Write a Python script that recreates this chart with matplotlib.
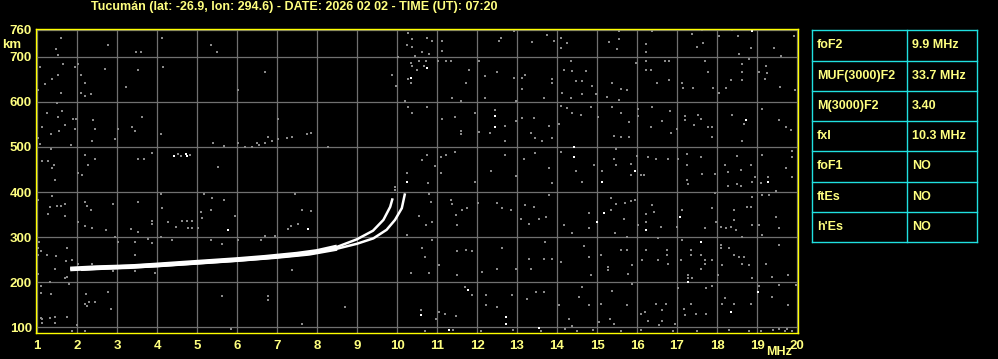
import matplotlib
matplotlib.use('Agg')
import matplotlib.pyplot as plt

# ionogram trace (frequency MHz, virtual height km)
o_freq = [1.83, 2.5, 3.3, 4.0, 5.0, 6.0, 6.7, 7.5, 8.0, 8.5, 9.0, 9.4, 9.66, 9.83, 9.89]
o_height = [229, 232, 234, 238, 244, 250, 255, 262, 268, 278, 295, 314, 338, 367, 386]
x_freq = [2.1, 3.0, 4.0, 5.0, 6.0, 7.0, 7.8, 8.5, 9.0, 9.41, 9.74, 9.95, 10.12, 10.2]
x_height = [229, 233, 237, 243, 249, 256, 263, 274, 285, 297, 316, 338, 364, 397]

# gray noise dots
noise_freq = [
    1.59, 1.48, 1.53, 2.78, 3.48, 3.59, 4.13, 5.34, 5.49, 1.65, 1.08, 1.95, 2.03, 2.69, 3.53, 4.16,
    1.53, 1.38, 1.19, 2.09, 2.19, 1.59, 2.09, 2.2, 2.34, 3.23, 1.03, 1.49, 1.24, 1.63, 1.53, 1.91,
    1.98, 1.69, 1.13, 1.55, 1.34, 1.95, 2.4, 2.44, 3.63, 3.38, 3.45, 4.09, 3.03, 2.94, 1.03, 1.07,
    1.84, 2.38, 5.4, 5.68, 1.34, 1.13, 1.28, 1.43, 1.38, 2.19, 2.44, 2.28, 3.53, 3.68, 3.88, 2.02,
    2.13, 1.44, 5.53, 4.53, 4.6, 4.83, 1.38, 1.03, 1.32, 1.51, 1.59, 1.69, 1.28, 1.69, 2.19, 2.24,
    2.34, 2.9, 3.53, 4.09, 4.13, 2.03, 2.19, 2.38, 2.73, 3.34, 3.53, 3.88, 3.88, 4.28, 4.47, 4.63,
    4.76, 4.88, 5.09, 5.13, 5.34, 5.18, 5.38, 5.68, 4.78, 4.88, 5.03, 4.38, 4.09, 2.94, 3.03, 3.44,
    3.78, 3.88, 1.76, 1.05, 1.03, 1.03, 1.09, 1.24, 1.48, 1.73, 1.88, 2.03, 2.38, 2.9, 3.44, 3.44,
    3.94, 5.34, 5.63, 1.03, 1.45, 1.76, 1.7, 1.8, 1.33, 1.09, 1.09, 1.34, 2.23, 2.78, 5.63, 2.2,
    2.3, 2.44, 2.24, 2.84, 1.09, 1.13, 1.33, 1.44, 1.74, 1.13, 1.44, 1.99, 1.88, 2.2, 2.94,
    10.28, 10.38, 10.24, 10.38, 10.44, 10.03, 10.34, 10.38, 10.28, 9.88, 10.34, 9.98, 6.7, 6.03,
    10.19, 10.28, 10.38, 7.03, 6.78, 6.88, 7.03, 7.24, 7.38, 7.74, 7.84, 6.03, 6.19, 6.38, 6.49,
    6.55, 6.69, 8.28, 10.24, 9.94, 9.94, 7.44, 7.63, 7.84, 5.94, 7.34, 7.53, 7.28, 6.7, 6.95, 6.59,
    6.03, 10.24, 7.38, 10.34, 6.78, 6.78, 8.69, 7.63, 5.84,
    10.76, 10.88, 10.63, 10.8, 11.13, 11.13, 11.8, 12.4, 12.59, 12.55, 12.93, 13.38, 13.76, 13.93,
    14.09, 14.24, 14.09, 14.18, 10.55, 10.68, 10.72, 10.51, 11.03, 11.22, 11.34, 11.8, 12.05, 12.2,
    12.49, 12.93, 13.13, 13.2, 13.13, 13.88, 13.88, 14.34, 14.18, 14.38, 14.72, 14.47, 14.63, 14.88,
    14.13, 14.34, 14.63, 14.97, 11.73, 11.38, 11.59, 12.19, 12.97, 13.68, 10.74, 11.13, 11.45,
    11.59, 11.59, 11.95, 12.44, 12.33, 12.69, 12.69, 12.05, 12.97, 13.13, 13.43, 13.34, 13.46,
    13.62, 13.8, 13.88, 14.05, 14.09, 14.26, 14.38, 14.59, 14.84, 15.03, 14.47, 10.63, 10.76,
    10.94, 10.78, 11.09, 11.23, 11.45, 11.09, 11.95, 12.34, 12.69, 12.98, 13.18, 13.44, 13.8,
    13.88, 14.09, 14.63, 14.93, 15.13, 10.8, 10.84, 11.34, 11.37, 11.63, 11.74, 11.47, 11.51,
    10.88, 10.72, 10.55, 12.03, 12.49, 12.63, 12.84, 13.2, 13.42, 13.09, 13.3, 13.55, 13.72, 13.8,
    14.18, 14.38, 14.8, 14.8, 15.0, 10.63, 10.69, 10.88, 11.05, 10.8, 11.51, 11.51, 11.72, 11.88,
    12.13, 12.63, 12.49, 12.98, 13.3, 13.34, 13.68, 13.88, 13.7, 14.11, 14.68, 14.8, 14.84, 15.09,
    11.7, 11.88, 10.59, 10.97, 11.05, 11.2, 11.47, 12.23, 12.23, 12.49, 12.88, 13.26, 13.48,
    13.68, 14.05, 14.3, 14.38, 14.55, 14.63, 14.8, 15.09, 15.05,
    15.55, 15.55, 15.3, 15.51, 16.23, 16.23, 16.38, 16.84, 17.37, 17.63, 17.65, 17.49, 18.05,
    18.38, 18.53, 18.84, 18.55, 19.43, 19.59, 19.93, 15.98, 16.23, 16.34, 16.7, 16.8, 16.22,
    15.38, 15.59, 15.76, 16.51, 16.8, 17.13, 17.15, 17.4, 17.7, 17.78, 17.9, 18.05, 18.22, 18.34,
    18.63, 18.63, 18.63, 18.8, 19.22, 19.26, 19.2, 19.57, 19.95, 19.05, 15.26, 15.55, 15.38, 15.59,
    15.8, 16.03, 16.03, 16.38, 16.83, 16.63, 16.34, 17.01, 16.84, 17.19, 17.19, 17.53, 17.59,
    17.43, 17.78, 17.88, 17.88, 18.38, 18.68, 18.63, 19.13, 19.55, 19.72, 19.85, 15.43, 15.59,
    15.8, 15.48, 15.43, 15.48, 15.84, 15.84, 16.01, 16.09, 16.18, 16.28, 16.48, 16.78, 17.03,
    17.24, 17.24, 17.24, 17.28, 17.59, 17.63, 17.95, 18.19, 18.28, 18.28, 18.49, 18.49, 18.59,
    18.59, 18.84, 18.88, 18.94, 19.09, 19.28, 19.13, 19.48, 19.72, 19.87, 19.87, 19.88, 15.34,
    15.34, 15.47, 15.69, 15.84, 15.95, 15.45, 15.68, 15.74, 16.03, 16.23, 16.23, 16.38, 16.43,
    16.59, 16.53, 17.13, 17.01, 17.69, 17.88, 17.95, 17.98, 18.09, 18.22, 18.34, 18.43, 18.43,
    18.48, 18.62, 18.76, 18.84, 18.88, 18.88, 19.05, 19.13, 19.48, 19.55, 19.3, 19.13, 15.28,
    15.28, 15.59, 15.74, 15.88, 15.78, 16.13, 16.23, 16.53, 16.74, 16.76, 16.78, 17.13, 17.09,
    17.35, 17.35, 17.59, 17.69, 17.59, 17.69, 17.88, 18.09, 18.09, 18.13, 18.03, 18.3, 18.43,
    18.55, 18.68, 18.63, 18.8, 18.88, 19.22, 19.38, 19.78, 19.55, 17.28, 17.28, 17.38, 15.38,
    15.74, 15.88, 15.32, 15.43, 16.09, 16.2, 16.28, 16.48, 16.63, 16.63, 16.73, 16.55, 16.95,
    17.03, 17.18, 17.19, 17.34, 17.47, 17.73, 17.73, 17.88, 18.13, 18.19, 18.43, 18.84, 19.05,
    19.38, 19.78, 19.97, 19.55, 18.8, 19.55, 19.76, 19.88,
    10.7, 11.4, 12.1, 12.9, 13.6, 14.2, 14.5, 14.9, 15.6, 16.1, 16.9, 17.5, 18.3, 19.1, 19.4, 19.7,
]
noise_height = [
    743, 717, 704, 726, 712, 712, 743, 726, 712, 685, 678, 678, 684, 674, 670, 678,
    661, 652, 641, 661, 643, 620, 620, 613, 617, 633, 626, 598, 576, 581, 566, 563,
    563, 548, 544, 535, 528, 540, 559, 541, 567, 544, 536, 528, 540, 518, 520, 507,
    505, 513, 509, 503, 496, 468, 470, 461, 453, 483, 474, 461, 473, 473, 487, 442,
    438, 427, 455, 484, 480, 482, 391, 383, 366, 369, 369, 373, 351, 347, 377, 369,
    360, 373, 377, 396, 364, 334, 325, 319, 315, 317, 312, 336, 328, 334, 323, 336,
    336, 336, 355, 342, 360, 396, 386, 383, 319, 319, 319, 293, 301, 301, 290, 290,
    296, 286, 275, 290, 275, 260, 269, 261, 258, 247, 249, 241, 241, 225, 260, 225,
    221, 293, 284, 217, 230, 212, 208, 195, 199, 191, 176, 173, 173, 177, 168, 151,
    155, 155, 146, 140, 121, 117, 121, 122, 122, 108, 108, 104, 91, 91, 762,
    754, 739, 727, 722, 702, 699, 687, 680, 652, 661, 643, 635, 667, 626,
    603, 589, 576, 563, 522, 514, 518, 521, 522, 529, 531, 509, 500, 500, 509,
    505, 509, 500, 442, 412, 404, 396, 360, 358, 347, 325, 330, 317, 302, 302, 293,
    293, 305, 226, 221, 168, 161, 145, 107, 96,
    743, 736, 710, 707, 713, 736, 762, 762, 743, 736, 758, 734, 749, 736,
    743, 732, 721, 762, 691, 680, 691, 672, 691, 691, 691, 672, 691, 658,
    667, 654, 654, 661, 628, 650, 643, 691, 672, 669, 669, 647, 647, 635,
    620, 609, 617, 617, 643, 609, 603, 608, 603, 609, 589, 563, 566,
    536, 529, 576, 583, 531, 546, 513, 534, 557, 565, 565, 531, 520,
    513, 546, 520, 550, 591, 587, 576, 571, 589, 566, 446, 472, 483,
    457, 420, 477, 482, 488, 442, 422, 446, 483, 435, 474, 487, 453,
    420, 490, 423, 461, 446, 396, 378, 382, 373, 360, 364, 349, 326,
    334, 327, 347, 376, 376, 364, 360, 371, 366, 341, 330, 341, 345, 394,
    327, 308, 353, 319, 334, 275, 256, 293, 238, 219, 215, 268, 272, 268,
    223, 275, 230, 230, 252, 230, 252, 252, 289, 245, 279, 256, 215, 260,
    189, 171, 138, 118, 133, 129, 125, 148, 171, 144, 171, 163, 178,
    178, 148, 118, 103, 166, 189, 148, 152, 111,
    757, 739, 734, 717, 728, 712, 757, 762, 751, 760, 731, 722, 747,
    760, 747, 720, 707, 720, 702, 747, 687, 692, 670, 691, 691, 670,
    643, 628, 626, 643, 648, 643, 632, 630, 691, 667, 630, 620, 630, 648,
    684, 667, 648, 695, 680, 665, 650, 634, 626, 667, 611, 605, 588, 576,
    556, 585, 568, 589, 579, 557, 544, 540, 531, 568, 559, 570, 562,
    548, 544, 544, 522, 572, 550, 514, 585, 559, 544, 538, 525, 523,
    523, 496, 474, 459, 463, 437, 481, 437, 437, 477, 474, 474, 474,
    485, 459, 426, 418, 477, 441, 441, 459, 444, 414, 481, 418, 414,
    448, 459, 422, 433, 420, 433, 483, 403, 453, 491, 477, 433, 386,
    360, 373, 375, 379, 382, 310, 340, 301, 326, 352, 334, 371, 356,
    323, 297, 360, 323, 319, 364, 397, 334, 323, 319, 323, 338, 360,
    315, 301, 367, 367, 389, 326, 326, 305, 345, 319, 394, 394, 234,
    226, 271, 271, 238, 217, 249, 271, 249, 271, 260, 241, 293, 249,
    271, 260, 260, 249, 230, 241, 249, 282, 275, 238, 215, 275, 260,
    256, 256, 241, 238, 208, 241, 212, 215, 282, 215, 208, 208, 179,
    149, 195, 118, 107, 129, 133, 114, 151, 138, 114, 151, 105, 107,
    186, 141, 126, 152, 129, 186, 129, 191, 152, 165, 152, 152, 191,
    166, 148, 193, 193, 92, 96, 96, 92,
    92, 94, 91, 93, 92, 95, 91, 93, 92, 94, 91, 92, 93, 91, 94, 92,
]

# white noise dots
bright_freq = [4.43, 4.73, 4.74, 5.78, 7.78, 10.34, 10.24, 10.76, 12.44, 12.44, 14.43, 14.43,
               15.13, 15.18, 14.99, 11.78, 10.59, 12.73, 13.55, 11.3, 12.72, 15.95, 16.23,
               17.08, 18.72, 19.28, 17.59, 17.28, 18.34, 19.02, 18.88, 19.01]
bright_height = [479, 484, 479, 316, 317, 654, 423, 676, 568, 545, 501, 478,
                 423, 353, 334, 182, 127, 122, 98, 93, 107, 446, 315,
                 345, 559, 422, 289, 200, 133, 178, 757, 762]

x_ticks = list(range(1, 21))
y_ticks = [100, 200, 300, 400, 500, 600, 700, 760]

# parameter table
param_names = ['foF2', 'MUF(3000)F2', 'M(3000)F2', 'fxI', 'foF1', 'ftEs', "h'Es"]
param_values = ['9.9 MHz', '33.7 MHz', '3.40', '10.3 MHz', 'NO', 'NO', 'NO']

title = 'Tucumán (lat: -26.9, lon: 294.6) - DATE: 2026 02 02 - TIME (UT): 07:20'

W, H = 998, 359
txt = '#ffff80'
font = 'Liberation Sans'

fig = plt.figure(figsize=(W / 100, H / 100), dpi=100, facecolor='black')
ax = fig.add_axes([36 / W, (H - 333) / H, 762 / W, 304 / H], facecolor='black')

ax.set_xlim(0.975, 20.025)
ax.set_ylim(86.7, 762.2)
ax.set_xticks(x_ticks)
ax.set_xticklabels([str(v) for v in x_ticks])
ax.set_yticks(y_ticks)
ax.set_yticklabels([str(v) for v in y_ticks])
ax.tick_params(length=0, colors=txt, labelsize=9.5)
ax.tick_params(axis='x', pad=5)
ax.tick_params(axis='y', pad=3)
for lab in ax.get_xticklabels() + ax.get_yticklabels():
    lab.set_fontweight('bold')
    lab.set_family(font)
ax.grid(True, color='#707070', linewidth=0.9)
ax.set_axisbelow(True)
for s in ax.spines.values():
    s.set_color('#ffff00')
    s.set_linewidth(1.0)
    s.set_zorder(5)

ax.scatter(noise_freq, noise_height, s=4.5, marker='s', c='#8a8a8a', linewidths=0, zorder=2)
ax.scatter(bright_freq, bright_height, s=4.5, marker='s', c='white', linewidths=0, zorder=3)
# thick common band where O and X overlap, thin separate branches above
ax.plot(o_freq[:10], o_height[:10], color='white', linewidth=3.4, solid_capstyle='butt', zorder=4)
ax.plot(x_freq[:8], x_height[:8], color='white', linewidth=3.0, solid_capstyle='butt', zorder=4)
ax.plot(o_freq, o_height, color='white', linewidth=1.8, solid_capstyle='butt', zorder=4)
ax.plot(x_freq, x_height, color='white', linewidth=1.8, solid_capstyle='butt', zorder=4)

fig.text(91 / W, 1 - 7 / H, title, color=txt, fontsize=9.0, fontweight='bold',
         family=font, ha='left', va='center')
fig.text(21 / W, 1 - 45 / H, 'km', color=txt, fontsize=9.5, fontweight='bold',
         family=font, ha='right', va='center')
fig.text(779 / W, 1 - 352 / H, 'MHz', color=txt, fontsize=9.0, fontweight='bold',
         family=font, ha='center', va='center')

# table on the right
tx0, tx1, tdiv = 812, 977, 907
ty0, row_h = 30.3, 30.25
tcol = '#20e0e0'
n = len(param_names)
for i in range(n + 1):
    y = 1 - (ty0 + i * row_h) / H
    fig.add_artist(plt.Line2D([tx0 / W, tx1 / W], [y, y], color=tcol, linewidth=1))
for xx in (tx0, tdiv, tx1):
    fig.add_artist(plt.Line2D([xx / W, xx / W], [1 - ty0 / H, 1 - (ty0 + n * row_h) / H],
                              color=tcol, linewidth=1))
for i, (name, val) in enumerate(zip(param_names, param_values)):
    yc = 1 - (ty0 + (i + 0.5) * row_h) / H
    fig.text(817 / W, yc, name, color=txt, fontsize=9, fontweight='bold', family=font,
             ha='left', va='center')
    fig.text(912 / W, yc, val, color=txt, fontsize=9, fontweight='bold', family=font,
             ha='left', va='center')

fig.savefig('out.png', dpi=100, facecolor='black')
